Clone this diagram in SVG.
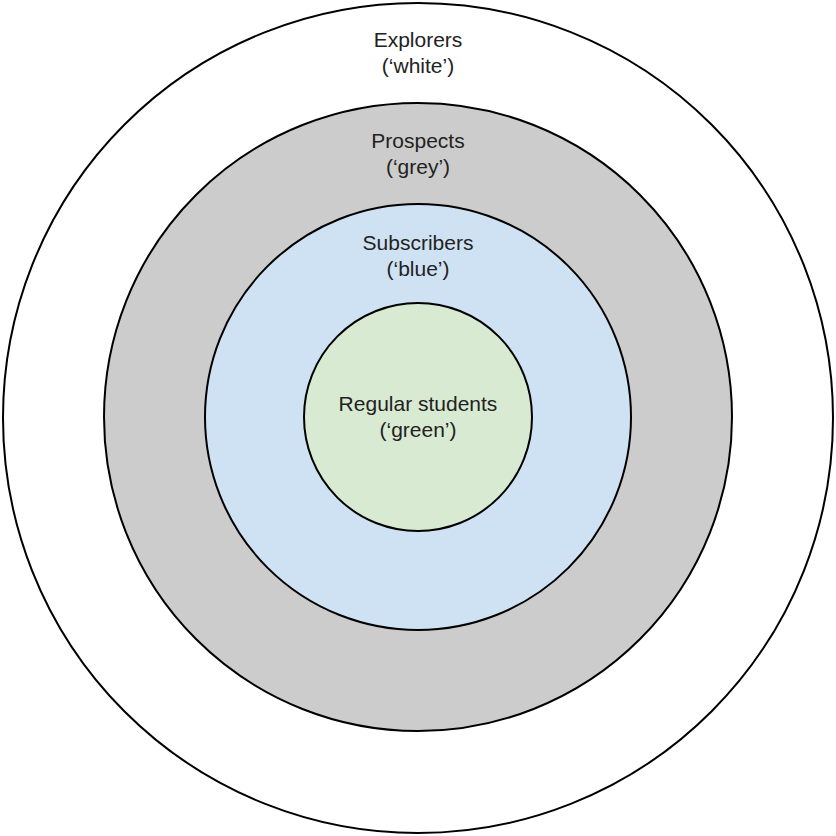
<svg xmlns="http://www.w3.org/2000/svg" width="836" height="836" viewBox="0 0 836 836">
<style>
.ring{stroke:#000;stroke-width:2}
.lbl{font-family:"Liberation Sans",Arial,sans-serif;font-size:21px;fill:#222;text-anchor:middle}
</style>
<rect width="836" height="836" fill="#fff"/>
<g id="explorers">
<circle class="ring" cx="418" cy="418" r="415" fill="#ffffff"/>
<text class="lbl" x="418" y="47">Explorers</text>
<text class="lbl" x="418" y="73">(‘white’)</text>
</g>
<g id="prospects">
<circle class="ring" cx="418" cy="417" r="314" fill="#cccccc"/>
<text class="lbl" x="418" y="148">Prospects</text>
<text class="lbl" x="418" y="174">(‘grey’)</text>
</g>
<g id="subscribers">
<circle class="ring" cx="418" cy="417" r="213" fill="#cfe2f3"/>
<text class="lbl" x="418" y="250">Subscribers</text>
<text class="lbl" x="418" y="276">(‘blue’)</text>
</g>
<g id="regular">
<circle class="ring" cx="418" cy="417" r="114" fill="#d9ead3"/>
<text class="lbl" x="418" y="411">Regular students</text>
<text class="lbl" x="418" y="437">(‘green’)</text>
</g>
<g id="connectors"></g>
</svg>
